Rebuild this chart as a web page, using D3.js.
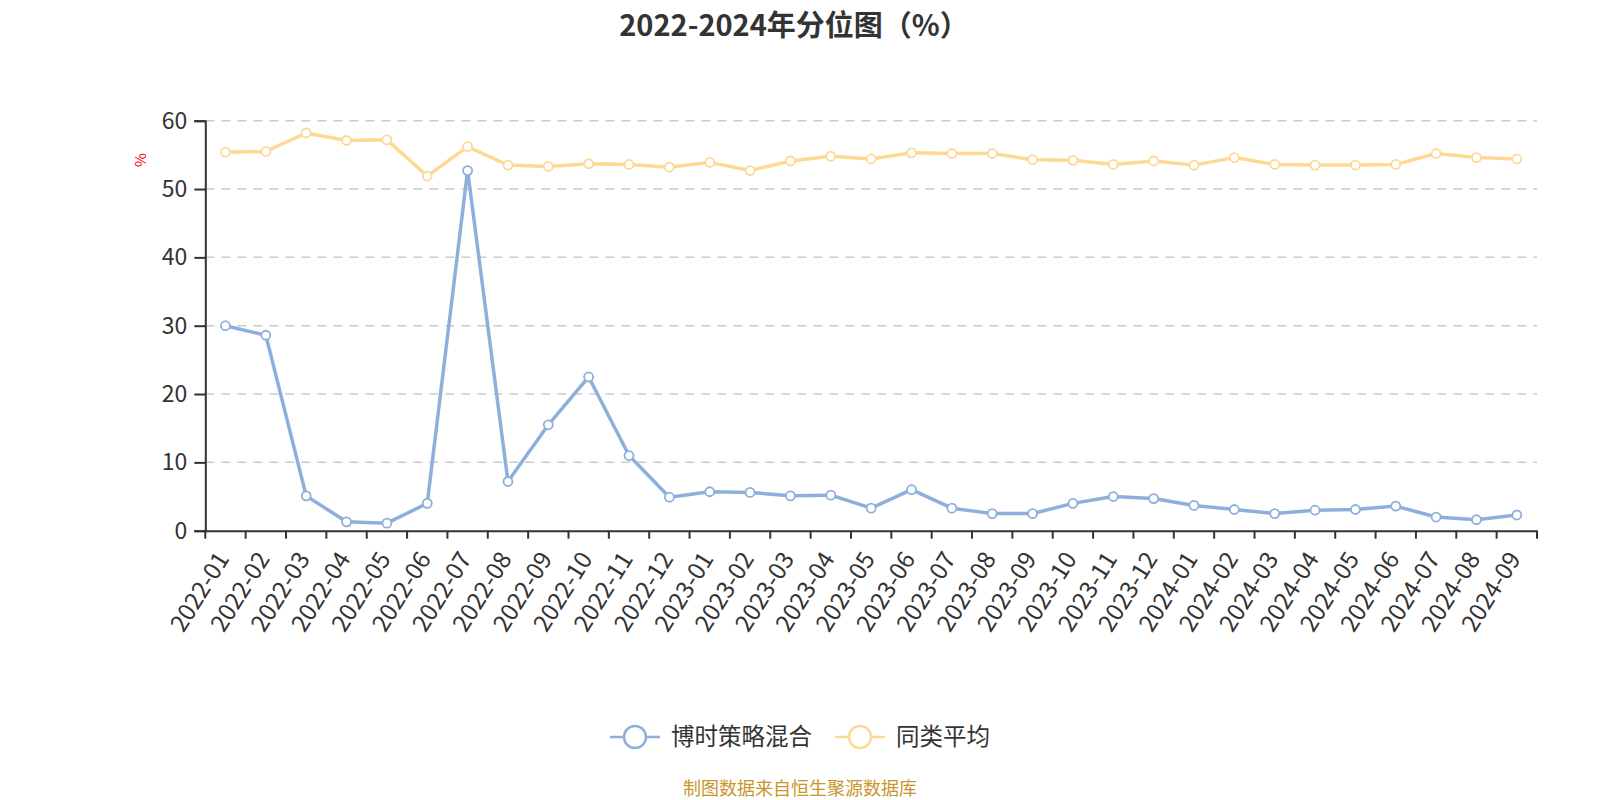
<!DOCTYPE html>
<html>
<head>
<meta charset="utf-8">
<script src="https://cdn.jsdelivr.net/npm/d3@7"></script>
<style>
body { margin: 0; background: #fff; }
svg { font-family: "Noto Sans CJK SC", "Noto Sans", sans-serif; }
.grid line { stroke: #ccc; stroke-dasharray: 9,7; stroke-width: 1.5; }
</style>
</head>
<body>
<div id="chart"></div>
<script>
const months = [
  "2022-01", "2022-02", "2022-03", "2022-04", "2022-05", "2022-06",
  "2022-07", "2022-08", "2022-09", "2022-10", "2022-11", "2022-12",
  "2023-01", "2023-02", "2023-03", "2023-04", "2023-05", "2023-06",
  "2023-07", "2023-08", "2023-09", "2023-10", "2023-11", "2023-12",
  "2024-01", "2024-02", "2024-03", "2024-04", "2024-05", "2024-06",
  "2024-07", "2024-08", "2024-09"
];

// 博时策略混合
const fundValues = [
  30.0, 28.6, 5.1, 1.3, 1.1, 4.0, 52.7, 7.2, 15.5, 22.5, 11.0, 4.9,
  5.7, 5.6, 5.1, 5.2, 3.3, 6.0, 3.3, 2.5, 2.5, 4.0, 5.0, 4.7,
  3.7, 3.1, 2.5, 3.0, 3.1, 3.6, 2.0, 1.6, 2.3
];

// 同类平均
const avgValues = [
  55.4, 55.5, 58.2, 57.1, 57.2, 51.9, 56.2, 53.5, 53.3, 53.7, 53.6, 53.2,
  53.9, 52.7, 54.1, 54.8, 54.4, 55.3, 55.2, 55.2, 54.3, 54.2, 53.6, 54.1,
  53.5, 54.6, 53.6, 53.5, 53.5, 53.6, 55.2, 54.6, 54.4
];

const yTicks = [0, 10, 20, 30, 40, 50, 60];

const seriesList = [
  { name: "博时策略混合", values: fundValues, color: "#8eafdc" },
  { name: "同类平均", values: avgValues, color: "#fed995" }
];

const W = 1600, H = 800;
const margin = { top: 120.7, right: 63, bottom: 269.3, left: 205.3 };

const svg = d3.select("#chart").append("svg")
  .attr("width", W)
  .attr("height", H);

const xScale = d3.scaleBand()
  .domain(months)
  .range([margin.left, W - margin.right])
  .padding(0);

const yScale = d3.scaleLinear()
  .domain([0, 60])
  .range([H - margin.bottom, margin.top]);

const cx = d => xScale(d) + xScale.bandwidth() / 2;

// title
svg.append("text")
  .attr("x", W / 2 - 6)
  .attr("y", 36)
  .attr("text-anchor", "middle")
  .attr("font-size", 29)
  .attr("font-weight", "bold")
  .attr("fill", "#333")
  .text("2022-2024年分位图（%）");

// grid
svg.append("g")
  .attr("class", "grid")
  .selectAll("line")
  .data(yTicks.filter(t => t > 0))
  .enter()
  .append("line")
  .attr("x1", margin.left)
  .attr("x2", W - margin.right)
  .attr("y1", d => yScale(d))
  .attr("y2", d => yScale(d));

// y axis
const yAxis = svg.append("g")
  .attr("transform", "translate(" + margin.left + ",0)")
  .call(d3.axisLeft(yScale).tickValues(yTicks).tickSize(11).tickPadding(7));
yAxis.select(".domain").attr("stroke", "#333").attr("stroke-width", 2);
yAxis.selectAll(".tick line").attr("stroke", "#333").attr("stroke-width", 2);
yAxis.selectAll(".tick text")
  .attr("font-size", 23)
  .attr("fill", "#333")
  .attr("font-family", "\"Noto Sans CJK SC\", \"Noto Sans\", sans-serif");

// unit label
svg.append("text")
  .attr("transform", "translate(146,160) rotate(-90)")
  .attr("text-anchor", "middle")
  .attr("font-size", 15)
  .attr("fill", "red")
  .text("%");

// x axis
const xAxis = svg.append("g")
  .attr("transform", "translate(0," + yScale(0) + ")")
  .call(d3.axisBottom(xScale).tickSize(0).tickSizeOuter(0));
xAxis.select(".domain").attr("stroke", "#333").attr("stroke-width", 2);
xAxis.selectAll(".tick line").remove();
xAxis.selectAll(".tick text")
  .attr("font-size", 24)
  .attr("fill", "#333")
  .attr("font-family", "\"Noto Sans CJK SC\", \"Noto Sans\", sans-serif")
  .attr("text-anchor", "end")
  .attr("dy", "0.35em")
  .attr("transform", "translate(-5,22) rotate(-58)");

// x ticks at band boundaries
xAxis.selectAll(".bound")
  .data(months.concat(["end"]))
  .enter()
  .append("line")
  .attr("class", "bound")
  .attr("x1", (d, i) => margin.left + i * xScale.bandwidth())
  .attr("x2", (d, i) => margin.left + i * xScale.bandwidth())
  .attr("y1", 0)
  .attr("y2", 8)
  .attr("stroke", "#333")
  .attr("stroke-width", 2);

// lines
const line = d3.line()
  .x((d, i) => cx(months[i]))
  .y(d => yScale(d));

seriesList.forEach(s => {
  svg.append("path")
    .datum(s.values)
    .attr("fill", "none")
    .attr("stroke", s.color)
    .attr("stroke-width", 3.5)
    .attr("stroke-linejoin", "round")
    .attr("d", line);

  svg.append("g")
    .selectAll("circle")
    .data(s.values)
    .enter()
    .append("circle")
    .attr("cx", (d, i) => cx(months[i]))
    .attr("cy", d => yScale(d))
    .attr("r", 4.5)
    .attr("fill", "#fff")
    .attr("stroke", s.color)
    .attr("stroke-width", 1.8);
});

// legend
const legendY = 737;
const legendItems = [
  { x: 610, s: seriesList[0] },
  { x: 835, s: seriesList[1] }
];
legendItems.forEach(item => {
  const g = svg.append("g").attr("transform", "translate(" + item.x + "," + legendY + ")");
  g.append("line")
    .attr("x1", 0).attr("x2", 50)
    .attr("y1", 0).attr("y2", 0)
    .attr("stroke", item.s.color)
    .attr("stroke-width", 2.5);
  g.append("circle")
    .attr("cx", 25).attr("cy", 0).attr("r", 11)
    .attr("fill", "#fff")
    .attr("stroke", item.s.color)
    .attr("stroke-width", 2.5);
  g.append("text")
    .attr("x", 61)
    .attr("y", 0)
    .attr("dy", "0.35em")
    .attr("font-size", 23.5)
    .attr("fill", "#333")
    .text(item.s.name);
});

// source note
svg.append("text")
  .attr("x", W / 2)
  .attr("y", 795)
  .attr("text-anchor", "middle")
  .attr("font-size", 18)
  .attr("fill", "#c8962a")
  .text("制图数据来自恒生聚源数据库");
</script>
</body>
</html>
